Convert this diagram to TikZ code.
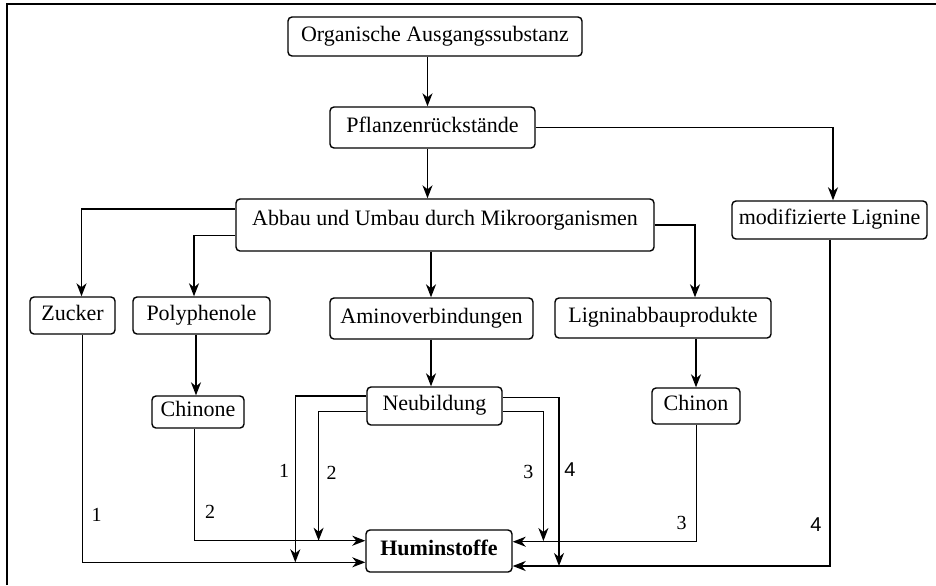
\documentclass[tikz,border=0pt]{standalone}
\usepackage{fontspec}
\setmainfont{Liberation Serif}
\newfontfamily\sansf{Liberation Sans}
\usetikzlibrary{arrows.meta,calc}
\begin{document}
\begin{tikzpicture}[x=0.5pt,y=-0.5pt,
  line width=0.7pt,
  box/.style={draw,rounded corners=2pt,inner sep=0pt,text height=7.6pt,text depth=3pt,
    font=\fontsize{11}{13}\selectfont},
  arr/.style={-{Stealth[length=6.5pt,width=5pt,inset=2pt]}},
  lbl/.style={inner sep=0pt,font=\fontsize{10}{12}\selectfont},
  lbls/.style={inner sep=0pt,font=\sansf\fontsize{10}{12}\selectfont}]
\useasboundingbox (0,0) rectangle (936,585);
\draw[line width=0.8pt] (7,585) -- (7,4) -- (936,4);
% nodes
\node[box,minimum width=147pt,minimum height=19.5pt] (org) at (435,36.5) {Organische Ausgangssubstanz};
\node[box,minimum width=102.5pt,minimum height=20.5pt] (pfl) at (432.5,127.5) {Pflanzenrückstände};
\node[box,minimum width=209pt,minimum height=26pt,text depth=7.2pt] (abbau) at (445,225) {Abbau und Umbau durch Mikroorganismen};
\node[box,minimum width=97.5pt,minimum height=19pt] (modif) at (829.5,220) {modifizierte Lignine};
\node[box,minimum width=42.5pt,minimum height=18.5pt] (zucker) at (72.5,315.5) {Zucker};
\node[box,minimum width=68.5pt,minimum height=18.5pt] (poly) at (201.5,315.5) {Polyphenole};
\node[box,minimum width=101.5pt,minimum height=20.5pt] (amino) at (431.5,318.5) {Aminoverbindungen};
\node[box,minimum width=108pt,minimum height=20pt] (lignin) at (663,318) {Ligninabbauprodukte};
\node[box,minimum width=46pt,minimum height=16pt] (chinone) at (198,412) {Chinone};
\node[box,minimum width=44pt,minimum height=18pt] (chinon) at (696,406) {Chinon};
\node[box,minimum width=67.5pt,minimum height=19pt] (neu) at (434.5,406) {Neubildung};
\node[box,minimum width=73pt,minimum height=21pt,font=\bfseries\fontsize{11}{13}\selectfont] (humin) at (439,551) {Huminstoffe};
% connectors
\draw[arr] ($(org.south)+(-7.5,0)$) coordinate (t1) -- (t1 |- pfl.north);
\draw[arr] ($(pfl.south)+(-5,0)$) coordinate (t2) -- (t2 |- abbau.north);
\draw[arr] (pfl.east) -| ($(modif.north)+(3.5,0)$);
\draw[arr] ($(abbau.west)+(0,-16)$) -| ($(zucker.north)+(9,0)$);
\draw[arr] ($(abbau.west)+(0,10.7)$) -| ($(poly.north)+(-7.5,0)$);
\draw[arr] ($(abbau.south)+(-14,0)$) coordinate (t3) -- (t3 |- amino.north);
\draw[arr] (abbau.east) -| ($(lignin.north)+(32,0)$);
\draw[arr] ($(amino.south)+(-0.5,0)$) coordinate (t4) -- (t4 |- neu.north);
\draw[arr] ($(poly.south)+(-5.5,0)$) coordinate (t5) -- (t5 |- chinone.north);
\draw[arr] ($(lignin.south)+(33,0)$) coordinate (t6) -- (t6 |- chinon.north);
% to Huminstoffe
\draw[arr] ($(zucker.south)+(10,0)$) |- ($(humin.west)+(0,11.3)$);
\draw[arr] ($(chinone.south)+(-3.7,0)$) |- ($(humin.west)+(0,-10.3)$);
\draw[arr] ($(neu.west)+(0,-10)$) -| ($(humin.west)+(-70,11.3)$);
\draw[arr] ($(neu.west)+(0,5.7)$) -| ($(humin.west)+(-46.7,-10.3)$);
\draw[arr] ($(neu.east)+(0,5.7)$) -| ($(humin.east)+(30.7,-10)$);
\draw[arr] ($(neu.east)+(0,-8.7)$) -| ($(humin.east)+(46.3,15)$);
\draw[arr] ($(chinon.south)+(0.7,0)$) |- ($(humin.east)+(0,-9.3)$);
\draw[arr] ($(modif.south)+(0.5,0)$) |- ($(humin.east)+(0,15)$);
% labels
\node[lbl] (l1a) at (96.7,515) {1};
\node[lbl] (l2a) at (210,511.7) {2};
\node[lbl] (l1b) at (284,470.7) {1};
\node[lbl] (l2b) at (331.7,473.3) {2};
\node[lbl] (l3a) at (528.3,472) {3};
\node[lbls] (l4a) at (570,470) {4};
\node[lbl] (l3b) at (681.7,523.3) {3};
\node[lbls] (l4b) at (816,525) {4};
\end{tikzpicture}
\end{document}
